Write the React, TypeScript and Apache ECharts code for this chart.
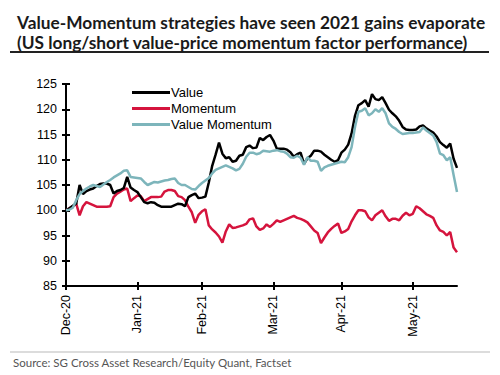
import React, { useEffect, useRef } from "react";
import * as echarts from "echarts";

const titleText = "Value-Momentum strategies have seen 2021 gains evaporate\n(US long/short value-price momentum factor performance)";
const sourceText = "Source: SG Cross Asset Research/Equity Quant, Factset";

const monthTickIndex = [0, 21, 40, 61, 81, 102];
const monthTickLabel = ["Dec-20", "Jan-21", "Feb-21", "Mar-21", "Apr-21", "May-21"];

const valueSeries = [
  100, 100.4, 100.9, 101.3, 105, 103.2, 103.8, 104.1, 104.3, 104.8,
  105.2, 105.3, 105.3, 105, 103.3, 103.8, 104, 104.4, 106.6, 104.5,
  104, 103.6, 102.6, 101.6, 101.4, 101.6, 101.5, 101, 100.7, 100.7,
  100.7, 100.7, 101, 101.3, 101.2, 100.8, 102.6, 103, 103.3, 102.4,
  102.5, 102.7, 105.5, 108.8, 111, 113.4, 111.2, 110.3, 110.5, 109.6,
  109.8, 110.8, 111, 112.5, 112.8, 112.3, 112.4, 114.3, 113.9, 114.5,
  114.9, 113.8, 112.2, 112.2, 112.2, 112, 111.5, 110.6, 111.1, 111.4,
  109.2, 110.3, 110.8, 111.8, 111.8, 111.6, 111, 110.5, 110, 109.6,
  109.9, 111.4, 112, 113, 115.2, 118.7, 120.8, 121.2, 121.8, 120.5,
  123, 122, 121.8, 122.4, 121.2, 119.9, 119.2, 118.6, 117.7, 116.5,
  116, 115.9, 115.9, 116, 116.6, 116.8, 116.2, 115.8, 115.4, 114.6,
  113.5, 112.9, 112.4, 113.2, 110.2, 108.4,
];

const momentumSeries = [
  100, 100.4, 100.8, 101.3, 99, 100.8, 101.6, 101.3, 101, 100.7,
  100.7, 100.7, 100.7, 100.8, 102.6, 103.3, 103.7, 104.1, 104.3, 101.8,
  102.4, 102.9, 102.8, 101.8, 102.2, 102.6, 102.6, 102.6, 102.7, 103.7,
  104, 104, 103.8, 102.8, 102.6, 102, 100.7, 99.6, 97.5, 99.1,
  99.8, 100.2, 97, 96.2, 95.6, 94.8, 93.6, 95.8, 97.2, 96.5,
  96.6, 96.8, 97, 97.3, 98.2, 98.4, 96.8, 96.1, 96.4, 97.2,
  96.7, 97.3, 98, 97.7, 98, 98.3, 98.6, 98.9, 98.5, 98.3,
  98, 97.6, 96.8, 96, 95.5, 93.5, 94.6, 95.6, 96.3, 96.9,
  97.4, 95.5, 95.8, 96.3, 97.8, 99, 100, 100, 99.8, 98.6,
  98, 99, 99.5, 100, 98.8, 97.9, 98.3, 98.3, 98, 98.9,
  99.5, 99, 99.3, 100.8, 100.4, 99.8, 99.2, 98.9, 98.5, 97,
  96, 95.7, 95, 95.7, 92.6, 91.7,
];

const valueMomentumSeries = [
  100, 100.1, 100.5, 102, 103.2, 103.8, 104.3, 104.7, 105, 104.8,
  104.6, 105.1, 105.6, 106, 106.5, 106.9, 107.3, 107.8, 107.9, 106.6,
  106.5, 106.4, 106.3, 105.6, 105, 105.3, 105.6, 105.5, 105.7, 105.9,
  106, 106.2, 106.3, 105.4, 105, 105, 104.6, 104.2, 104.1, 104.8,
  105.4, 105.9, 106.4, 107.3, 108, 108.3, 108.6, 108.9, 108.6, 108.3,
  107.9, 108.2, 109.2, 110.6, 111.4, 111.4, 111.1, 111.3, 111.8, 111.7,
  111.6, 111.8, 111.9, 111.7, 111.6, 111.2, 110.5, 110.4, 110.8, 110.4,
  109, 110.5, 109.8, 109.8, 109.6, 107.8, 108.5, 108.8, 109, 109.2,
  109.4, 109.6, 109.5, 110.5, 112.5, 116.5, 119.5, 119.7, 120.2, 118.8,
  119.2, 120, 119.5, 120.2, 119.2, 117.2, 116.5, 116.1, 115.5, 115.1,
  115.2, 115.3, 115.3, 115.4, 115.5, 116.4, 115.8, 115.3, 114.8, 113.5,
  111.2, 110.9, 109.9, 110.5, 107, 103.6,
];

const yTicks = { min: 85, max: 125, interval: 5 };

const COLORS = { value: "#000000", momentum: "#D5143D", valueMomentum: "#7DB5BB" };

export default function App() {
  const ref = useRef<HTMLDivElement>(null);

  useEffect(() => {
    if (!ref.current) return;
    const chart = echarts.init(ref.current, undefined, { renderer: "svg" });
    const categories = valueSeries.map((_, i) => String(i));
    const isMonth = (i: number) => monthTickIndex.includes(i);

    chart.setOption({
      animation: false,
      backgroundColor: "#ffffff",
      title: {
        text: titleText,
        left: 12,
        top: 7,
        textStyle: {
          fontFamily: "Lato",
          fontWeight: "bold",
          fontSize: 17.3,
          lineHeight: 20,
          color: "#1a1a1a",
        },
      },
      legend: {
        orient: "vertical",
        left: 127,
        top: 81,
        itemWidth: 38,
        itemHeight: 3,
        itemGap: 3,
        icon: "rect",
        textStyle: { fontFamily: "Liberation Sans", fontSize: 13, color: "#000", padding: [0, 0, 0, -4] },
        data: ["Value", "Momentum", "Value Momentum"],
      },
      grid: { left: 66, right: 43, top: 84, bottom: 89, containLabel: false },
      xAxis: [
        {
          type: "category",
          data: categories,
          boundaryGap: false,
          axisLine: { lineStyle: { color: "#000", width: 2 } },
          axisTick: { show: true, length: 4, interval: (i: number) => isMonth(i), lineStyle: { color: "#000", width: 2 } },
          axisLabel: {
            interval: (i: number) => isMonth(i),
            rotate: 90,
            margin: 9,
            fontFamily: "Liberation Sans",
            fontSize: 12.5,
            color: "#000",
            formatter: (_v: string, i: number) => monthTickLabel[monthTickIndex.indexOf(i)] ?? "",
          },
          splitLine: { show: false },
        },
        {
          type: "category",
          data: categories,
          boundaryGap: false,
          position: "bottom",
          axisLine: { show: false },
          axisTick: { show: true, inside: true, length: 4, interval: (i: number) => isMonth(i), lineStyle: { color: "#000", width: 2 } },
          axisLabel: { show: false },
          splitLine: { show: false },
        },
      ],
      yAxis: [
        {
          type: "value",
          min: yTicks.min,
          max: yTicks.max,
          interval: yTicks.interval,
          axisLine: { show: true, lineStyle: { color: "#000", width: 2 } },
          axisTick: { show: true, length: 4, lineStyle: { color: "#000", width: 2 } },
          axisLabel: { fontFamily: "Liberation Sans", fontSize: 12.5, color: "#000", margin: 9 },
          splitLine: { show: false },
        },
        {
          type: "value",
          min: yTicks.min,
          max: yTicks.max,
          interval: yTicks.interval,
          position: "left",
          axisLine: { show: false },
          axisTick: { show: true, inside: true, length: 4, lineStyle: { color: "#000", width: 2 } },
          axisLabel: { show: false },
          splitLine: { show: false },
        },
      ],
      series: [
        {
          name: "Value",
          type: "line",
          data: valueSeries,
          showSymbol: false,
          symbol: "none",
          lineStyle: { color: COLORS.value, width: 2.5 },
          itemStyle: { color: COLORS.value },
          z: 4,
        },
        {
          name: "Momentum",
          type: "line",
          data: momentumSeries,
          showSymbol: false,
          symbol: "none",
          lineStyle: { color: COLORS.momentum, width: 2.5 },
          itemStyle: { color: COLORS.momentum },
          z: 3,
        },
        {
          name: "Value Momentum",
          type: "line",
          data: valueMomentumSeries,
          showSymbol: false,
          symbol: "none",
          lineStyle: { color: COLORS.valueMomentum, width: 2.5 },
          itemStyle: { color: COLORS.valueMomentum },
          z: 5,
        },
      ],
      graphic: [
        {
          type: "line",
          shape: { x1: 10, y1: 52, x2: 489, y2: 52 },
          style: { stroke: "#222", lineWidth: 2 },
        },
        {
          type: "line",
          shape: { x1: 10, y1: 352, x2: 490, y2: 352 },
          style: { stroke: "#d0d0d0", lineWidth: 1.5 },
        },
        {
          type: "text",
          left: 13,
          top: 356,
          style: { text: sourceText, fontFamily: "Lato", fontSize: 11.5, fill: "#555" },
        },
      ],
    });

    return () => chart.dispose();
  }, []);

  return <div ref={ref} style={{ width: 500, height: 375, position: "absolute", left: 0, top: 0 }} />;
}
